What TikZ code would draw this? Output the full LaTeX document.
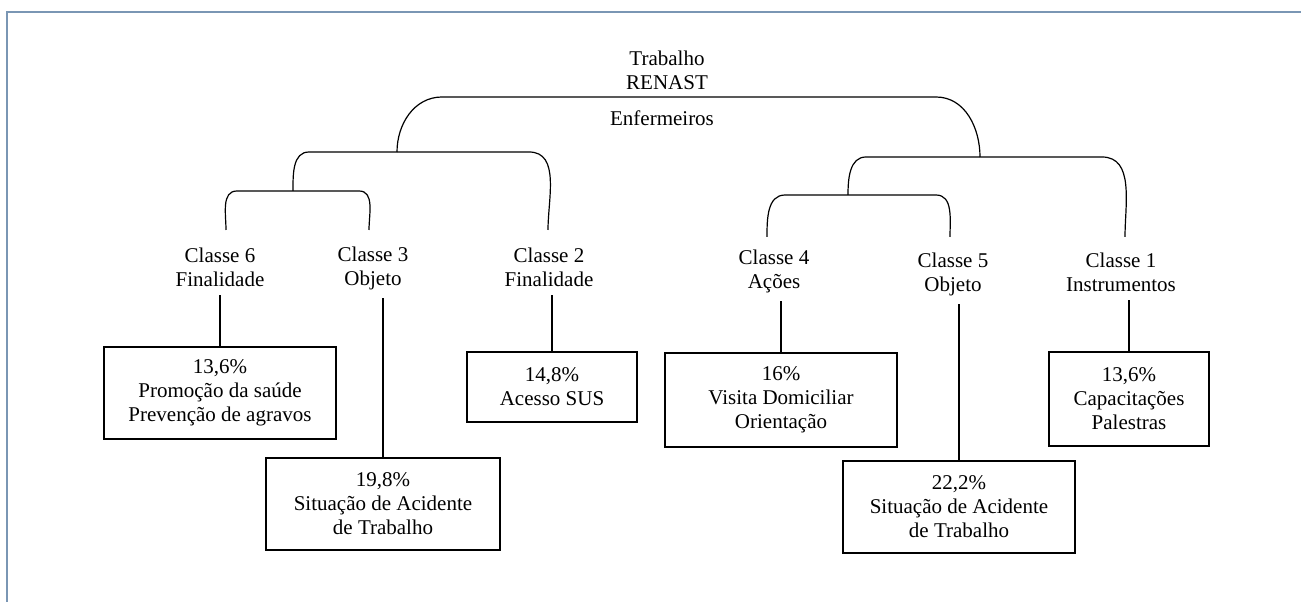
\documentclass[tikz,border=0pt]{standalone}
\usepackage{fontspec}
\setmainfont{Liberation Serif}
\definecolor{moldura}{RGB}{122,150,180}
\begin{document}
\begin{tikzpicture}[x=1pt,y=1pt,font=\fontsize{21}{24}\selectfont,
    galho/.style={line width=1.2pt},
    classe/.style={align=center,anchor=north,inner xsep=2pt,inner ysep=8pt},
    caixa/.style={draw,line width=1.2pt,align=center}]
        \useasboundingbox (0,0) rectangle (1301,602);
        % Moldura
        \draw[moldura,line width=1.5pt] (7,0) -- (7,590) -- (1301,590);

        % Raiz
        \node[anchor=north,align=center,inner sep=0pt] (trab) at (667,551) {Trabalho\\RENAST};
        \node[anchor=base] (enf) at (662,476) {Enfermeiros};

        % Classes
        \node[classe] (c6) at (220,362) {Classe 6\\Finalidade};
        \node[classe] (c3) at (373,363) {Classe 3\\Objeto};
        \node[classe] (c2) at (549,362) {Classe 2\\Finalidade};
        \node[classe] (c4) at (774,360) {Classe 4\\Ações};
        \node[classe] (c5) at (953,357) {Classe 5\\Objeto};
        \node[classe] (c1) at (1121,357) {Classe 1\\Instrumentos};

        % Caixas
        \node[caixa,minimum width=232pt,minimum height=92pt] (b6) at (220,209) {13,6\%\\Promoção da saúde\\Prevenção de agravos};
        \node[caixa,minimum width=234pt,minimum height=92pt] (b3) at (383,98) {19,8\%\\Situação de Acidente\\de Trabalho};
        \node[caixa,minimum width=170pt,minimum height=70pt] (b2) at (552,215) {14,8\%\\Acesso SUS};
        \node[caixa,minimum width=232pt,minimum height=94pt] (b4) at (781,202) {16\%\\Visita Domiciliar\\Orientação};
        \node[caixa,minimum width=232pt,minimum height=92pt] (b5) at (959,95) {22,2\%\\Situação de Acidente\\de Trabalho};
        \node[caixa,minimum width=160pt,minimum height=94pt] (b1) at (1129,203) {13,6\%\\Capacitações\\Palestras};

        % Pontas e junções
        \coordinate (e6) at (226,372);
        \coordinate (e3) at (369,372);
        \coordinate (e2) at (548,372);
        \coordinate (e4) at (767,365);
        \coordinate (e5) at (950,365);
        \coordinate (e1) at (1125,365);
        \coordinate (g63) at (293,411);
        \coordinate (g45) at (848,407);
        \coordinate (gE) at (397,450);
        \coordinate (gD) at (980,445);

        % Dendrograma
        \draw[galho] (e6) to[out=90,in=180] (237,411) -- (359,411) to[out=0,in=90] (e3);
        \draw[galho] (g63) to[out=90,in=180] (309,450) -- (529,450) to[out=0,in=90] (e2);
        \draw[galho] (e4) to[out=90,in=180] (785,407) -- (936,407) to[out=0,in=90] (e5);
        \draw[galho] (g45) to[out=90,in=180] (866,445) -- (1102,445) to[out=0,in=90] (e1);
        \draw[galho] (gE) to[out=90,in=180] (442,505) -- (936,505) to[out=0,in=90] (gD);

        % Ligações
        \foreach \c/\b in {c6/b6,c3/b3,c2/b2,c4/b4,c5/b5,c1/b1}
            \draw[galho] (\c.south -| \b.north) -- (\b.north);
\end{tikzpicture}
\end{document}
